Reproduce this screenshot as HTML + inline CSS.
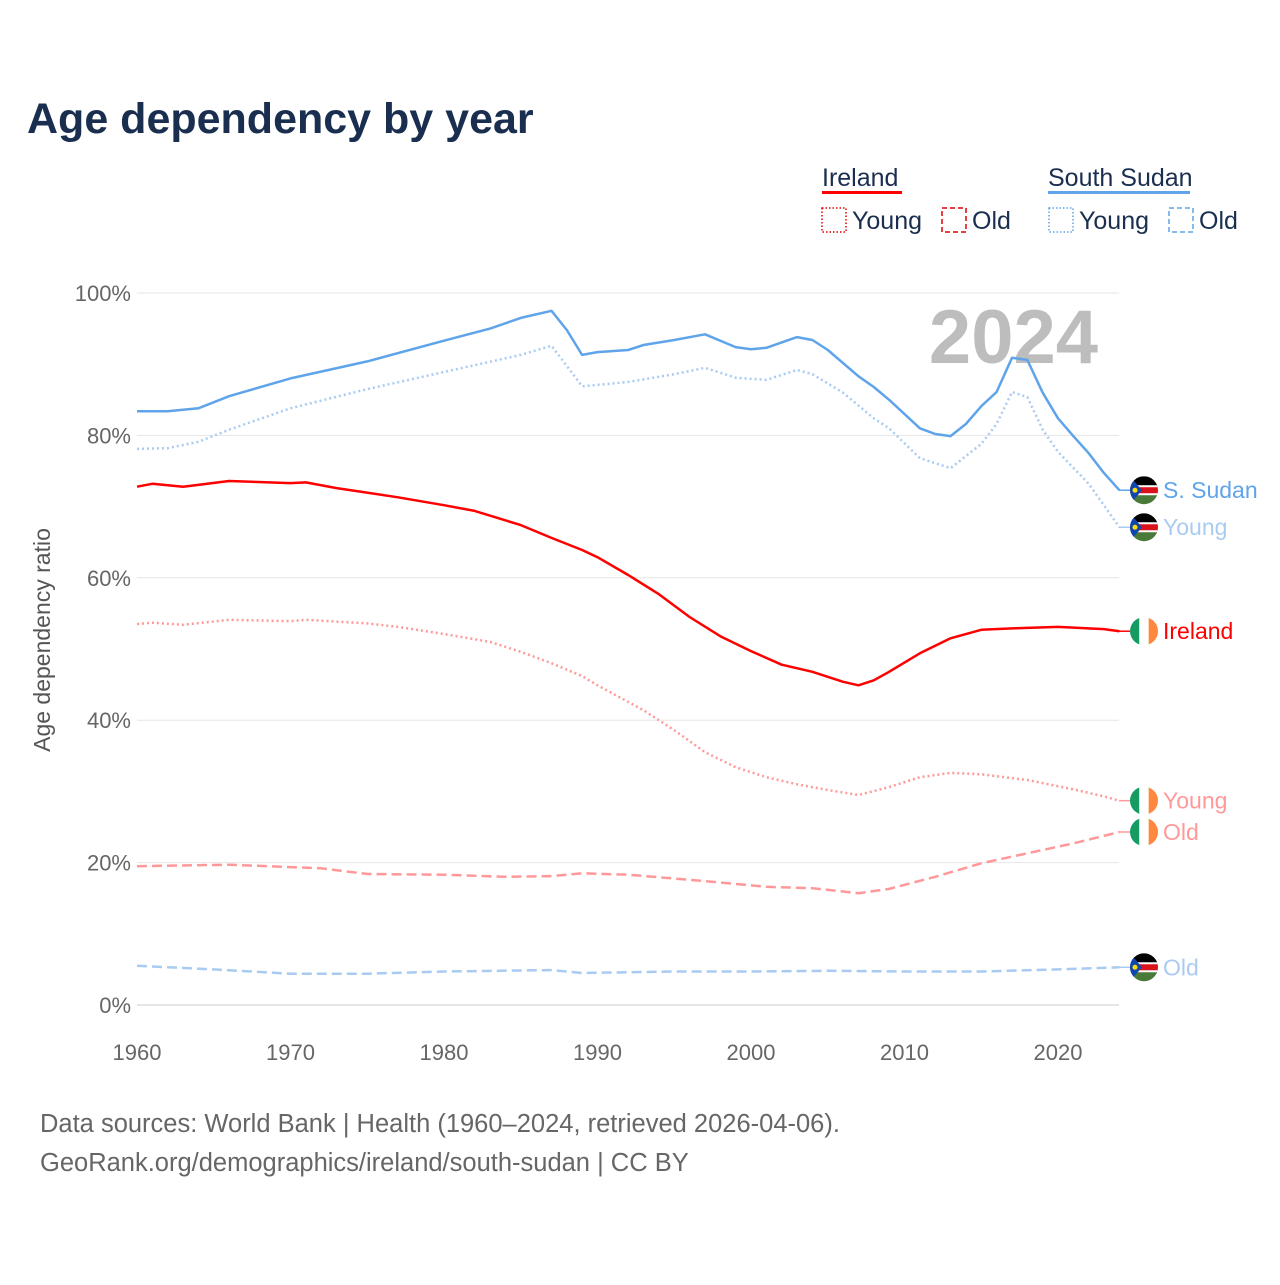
<!DOCTYPE html>
<html><head><meta charset="utf-8"><style>
body{margin:0;background:#fff;font-family:"Liberation Sans",sans-serif}
svg text{font-family:"Liberation Sans",sans-serif}
</style></head><body>
<svg id="c" width="1280" height="1280" viewBox="0 0 1280 1280">
<text x="27" y="133" font-size="43" font-weight="bold" fill="#1a2e4f">Age dependency by year</text>
<g font-size="25" fill="#1a2e4f">
<text x="822" y="186">Ireland</text>
<rect x="822" y="191" width="80" height="3" fill="#f00"/>
<rect x="822" y="208" width="24" height="24" fill="none" stroke="#d00" stroke-width="1.5" stroke-dasharray="1.5 2"/>
<text x="852" y="229">Young</text>
<rect x="942" y="208" width="24" height="24" fill="none" stroke="#d00" stroke-width="1.5" stroke-dasharray="5 3"/>
<text x="972" y="229">Old</text>
<text x="1048" y="186">South Sudan</text>
<rect x="1048" y="191" width="142" height="3" fill="#5fa4ea"/>
<rect x="1049" y="208" width="24" height="24" fill="none" stroke="#5fa4ea" stroke-width="1.5" stroke-dasharray="1.5 2"/>
<text x="1079" y="229">Young</text>
<rect x="1169" y="208" width="24" height="24" fill="none" stroke="#5fa4ea" stroke-width="1.5" stroke-dasharray="5 3"/>
<text x="1199" y="229">Old</text>
</g>
<g id="grid"></g>
<text x="1098" y="363" text-anchor="end" font-size="76" font-weight="bold" fill="#bdbdbd">2024</text>
<g id="lines"></g>
<g id="ends"></g>
<text transform="translate(50,640) rotate(-90)" text-anchor="middle" font-size="23" fill="#555">Age dependency ratio</text>
<text x="40" y="1132" font-size="25.5" fill="#666">Data sources: World Bank | Health (1960–2024, retrieved 2026-04-06).</text>
<text x="40" y="1171" font-size="25.5" fill="#666">GeoRank.org/demographics/ireland/south-sudan | CC BY</text>
</svg>
<script>
const yTicks=[0,20,40,60,80,100];
const xTicks=[1960,1970,1980,1990,2000,2010,2020];
const ssTotalYears=[1960,1962,1964,1966,1970,1975,1980,1983,1985,1987,1988,1989,1990,1992,1993,1995,1997,1999,2000,2001,2003,2004,2005,2007,2008,2009,2011,2012,2013,2014,2015,2016,2017,2018,2019,2020,2021,2022,2023,2024];
const ssTotal=[83.4,83.4,83.8,85.5,88,90.4,93.3,95,96.5,97.5,94.8,91.3,91.7,92,92.7,93.4,94.2,92.4,92.1,92.3,93.8,93.4,92,88.3,86.8,85,81,80.2,79.9,81.6,84.1,86.1,90.9,90.6,86,82.4,79.9,77.5,74.7,72.3];
const ssYoungYears=[1960,1962,1964,1966,1970,1975,1980,1985,1987,1989,1992,1995,1997,1999,2001,2003,2004,2006,2008,2009,2011,2013,2015,2016,2017,2018,2019,2020,2022,2024];
const ssYoung=[78.1,78.2,79.1,80.8,83.8,86.5,88.9,91.3,92.6,86.9,87.5,88.6,89.5,88.1,87.8,89.2,88.6,86,82.4,81,76.8,75.4,78.8,81.6,86.1,85.4,80.8,77.7,73.2,67.1];
const ssOldYears=[1960,1965,1970,1975,1980,1987,1989,1995,2000,2005,2010,2015,2020,2024];
const ssOld=[5.5,5.0,4.4,4.4,4.7,4.9,4.5,4.7,4.7,4.8,4.7,4.7,5.0,5.3];
const ieTotalYears=[1960,1961,1963,1966,1970,1971,1973,1977,1980,1982,1985,1987,1989,1990,1992,1994,1996,1998,2000,2002,2004,2006,2007,2008,2009,2011,2013,2015,2017,2020,2023,2024];
const ieTotal=[72.8,73.2,72.8,73.6,73.3,73.4,72.6,71.3,70.2,69.4,67.4,65.6,63.9,62.9,60.4,57.7,54.5,51.8,49.7,47.8,46.8,45.4,44.9,45.6,46.8,49.4,51.5,52.7,52.9,53.1,52.8,52.5];
const ieYoungYears=[1960,1961,1963,1966,1970,1971,1975,1977,1980,1983,1985,1987,1989,1990,1993,1995,1997,1999,2001,2003,2005,2007,2009,2011,2013,2015,2018,2021,2023,2024];
const ieYoung=[53.5,53.7,53.4,54.1,53.9,54.1,53.6,53.1,52.1,51,49.6,48,46.2,44.9,41.4,38.6,35.5,33.4,32,31,30.2,29.5,30.6,32,32.6,32.4,31.6,30.3,29.3,28.7];
const ieOldYears=[1960,1966,1972,1975,1980,1984,1987,1989,1992,1997,2001,2004,2007,2009,2012,2015,2018,2021,2024];
const ieOld=[19.5,19.7,19.2,18.4,18.3,18,18.1,18.5,18.3,17.4,16.6,16.4,15.7,16.3,18,19.9,21.3,22.7,24.3];
const NS='http://www.w3.org/2000/svg';
const x=v=>137+(v-1960)*(1058-137)/60;
const y=v=>1005-v*7.12;
function mk(t,a,p){const e=document.createElementNS(NS,t);for(const k in a)e.setAttribute(k,a[k]);p.appendChild(e);return e;}
const grid=document.getElementById('grid');
yTicks.forEach(t=>{
 const l=mk('line',{x1:137,x2:1119,y1:y(t),y2:y(t),stroke:t==0?'#ccc':'#e6e6e6','stroke-width':1},grid);
 
 
 const tx=mk('text',{x:131,y:y(t)+8,'text-anchor':'end','font-size':22,fill:'#666'},grid);
 tx.textContent=t+'%';
 
 
});
xTicks.forEach(t=>{
 const tx=mk('text',{x:x(t),y:1060,'text-anchor':'middle','font-size':22,fill:'#666'},grid);
 tx.textContent=t;
 
 
});
const lines=document.getElementById('lines');
function series(ys,vs,col,dash,w,name){
 const d=ys.map((yr,i)=>(i?'L':'M')+x(yr).toFixed(1)+','+y(vs[i]).toFixed(1)).join('');
 const p=mk('path',{d:d,fill:'none',stroke:col,'stroke-width':w,'stroke-dasharray':dash,'stroke-linejoin':'round'},lines);
 
 
}
series(ssOldYears,ssOld,'#a9cbf2','10 5',2.5,'line-ssudan-old');
series(ieYoungYears,ieYoung,'#f99','2 3',2.5,'line-ireland-young');
series(ieOldYears,ieOld,'#f99','10 5',2.5,'line-ireland-old');
series(ssYoungYears,ssYoung,'#a9cbf2','2 3',2.5,'line-ssudan-young');
series(ieTotalYears,ieTotal,'#f00','',2.5,'line-ireland-total');
series(ssTotalYears,ssTotal,'#5fa4ea','',2.5,'line-ssudan-total');
const ends=document.getElementById('ends');
function flag(cy,type,label,col,name){
 const g=mk('g',{},ends);
 
 
 const cx=1144,r=14;
 mk('line',{x1:1119,x2:cx-r,y1:cy,y2:cy,stroke:col,'stroke-width':1.5},g);
 const id='cp'+Math.round(cy);
 const cp=mk('clipPath',{id:id},g);mk('circle',{cx:cx,cy:cy,r:r},cp);
 const f=mk('g',{'clip-path':'url(#'+id+')'},g);
 if(type=='ie'){
  mk('rect',{x:cx-r,y:cy-r,width:r*2/3,height:2*r,fill:'#169b62'},f);
  mk('rect',{x:cx-r/3,y:cy-r,width:r*2/3,height:2*r,fill:'#fff'},f);
  mk('rect',{x:cx+r/3,y:cy-r,width:r*2/3,height:2*r,fill:'#ff883e'},f);
 }else{
  mk('rect',{x:cx-r,y:cy-r,width:2*r,height:10,fill:'#000'},f);
  mk('rect',{x:cx-r,y:cy-4,width:2*r,height:8,fill:'#da121a'},f);
  mk('rect',{x:cx-r,y:cy-5,width:2*r,height:2,fill:'#fff'},f);
  mk('rect',{x:cx-r,y:cy+3,width:2*r,height:2,fill:'#fff'},f);
  mk('rect',{x:cx-r,y:cy+5,width:2*r,height:10,fill:'#4a7a3a'},f);
  mk('polygon',{points:(cx-r)+','+(cy-r)+' '+(cx-2)+','+cy+' '+(cx-r)+','+(cy+r),fill:'#0f47af'},f);
  mk('circle',{cx:cx-9,cy:cy,r:2.5,fill:'#fcdd09'},f);
 }
 const t=mk('text',{x:1163,y:cy+8,'font-size':23,fill:col},g);
 t.textContent=label;
}
flag(y(ssTotal[ssTotal.length-1]),'ss','S. Sudan','#5fa4ea','end-label-ssudan-total');
flag(y(ssYoung[ssYoung.length-1]),'ss','Young','#a9cbf2','end-label-ssudan-young');
flag(y(ieTotal[ieTotal.length-1]),'ie','Ireland','#f00','end-label-ireland-total');
flag(y(ieYoung[ieYoung.length-1]),'ie','Young','#f99','end-label-ireland-young');
flag(y(ieOld[ieOld.length-1]),'ie','Old','#f99','end-label-ireland-old');
flag(y(ssOld[ssOld.length-1]),'ss','Old','#a9cbf2','end-label-ssudan-old');
</script>
</body></html>
